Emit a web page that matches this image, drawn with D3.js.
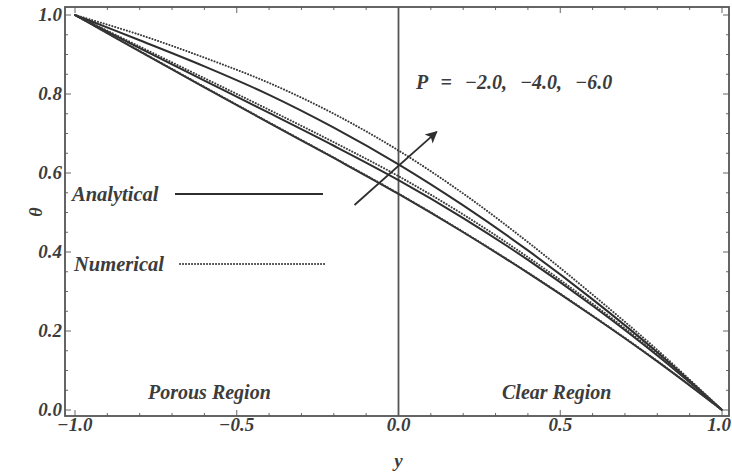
<!DOCTYPE html>
<html>
<head>
<meta charset="utf-8">
<script src="https://cdn.jsdelivr.net/npm/d3@7/dist/d3.min.js"></script>
<style>
  html, body { margin: 0; padding: 0; background: #ffffff; }
  svg text { font-family: "Liberation Serif", "DejaVu Serif", serif; font-weight: bold; font-style: italic; fill: #3c3c3c; }
</style>
</head>
<body>
<svg id="chart" width="732" height="475"></svg>
<script>
// Sample positions across the channel
const yPos = [-1, -0.8, -0.6, -0.4, -0.2, 0, 0.2, 0.4, 0.6, 0.8, 1];

// Temperature profiles θ(y) for P = -2, -4, -6
const analyticalP2 = [1, 0.908, 0.817, 0.727, 0.638, 0.547, 0.450, 0.347, 0.238, 0.123, 0];
const analyticalP4 = [1, 0.916, 0.834, 0.752, 0.669, 0.582, 0.486, 0.380, 0.264, 0.138, 0];
const analyticalP6 = [1, 0.936, 0.870, 0.798, 0.715, 0.622, 0.518, 0.404, 0.280, 0.146, 0];
const numericalP2  = [1, 0.909, 0.818, 0.728, 0.639, 0.548, 0.451, 0.348, 0.239, 0.124, 0];
const numericalP4  = [1, 0.920, 0.840, 0.760, 0.678, 0.592, 0.495, 0.387, 0.269, 0.141, 0];
const numericalP6  = [1, 0.950, 0.892, 0.828, 0.750, 0.657, 0.548, 0.425, 0.292, 0.152, 0];

const xTicks = [-1.0, -0.5, 0.0, 0.5, 1.0];
const yTicks = [0.0, 0.2, 0.4, 0.6, 0.8, 1.0];

const svg = d3.select("#chart");

// Frame with a little padding around the data range
const frame = { left: 65, right: 729, top: 7, bottom: 416 };
const x = d3.scaleLinear().domain([-1, 1]).range([75, 722]);
const y = d3.scaleLinear().domain([0, 1]).range([410, 15]);

const ink = "#2e2e2e";

// Frame ticks (major + minor), pointing inward on all four sides
const xMinor = d3.range(-1, 1.0001, 0.1);
const yMinor = d3.range(0, 1.0001, 0.05);
const tickG = svg.append("g").attr("stroke", "#666").attr("stroke-width", 1);
xMinor.forEach(v => {
  const major = xTicks.some(t => Math.abs(t - v) < 1e-6);
  const len = major ? 6 : 3;
  tickG.append("line").attr("x1", x(v)).attr("x2", x(v)).attr("y1", frame.bottom).attr("y2", frame.bottom - len);
  tickG.append("line").attr("x1", x(v)).attr("x2", x(v)).attr("y1", frame.top).attr("y2", frame.top + len);
});
yMinor.forEach(v => {
  const major = yTicks.some(t => Math.abs(t - v) < 1e-6);
  const len = major ? 6 : 3;
  tickG.append("line").attr("y1", y(v)).attr("y2", y(v)).attr("x1", frame.left).attr("x2", frame.left + len);
  tickG.append("line").attr("y1", y(v)).attr("y2", y(v)).attr("x1", frame.right).attr("x2", frame.right - len);
});

// Frame border
svg.append("rect")
  .attr("x", frame.left).attr("y", frame.top)
  .attr("width", frame.right - frame.left).attr("height", frame.bottom - frame.top)
  .attr("fill", "none").attr("stroke", "#555").attr("stroke-width", 1.8);

// Interface between porous and clear regions
svg.append("line")
  .attr("x1", x(0)).attr("x2", x(0))
  .attr("y1", frame.top).attr("y2", frame.bottom)
  .attr("stroke", "#555").attr("stroke-width", 1.8);

// Tick labels (the last one is kept inside the page edge)
const fmt = d3.format(".1f");
const minus = s => s.replace("-", "\u2212");
svg.append("g").selectAll("text").data(xTicks).join("text")
  .attr("x", (d, i) => i === xTicks.length - 1 ? 731 : x(d)).attr("y", 431)
  .attr("text-anchor", (d, i) => i === xTicks.length - 1 ? "end" : "middle")
  .attr("font-size", 19)
  .text(d => minus(fmt(d)));
svg.append("g").selectAll("text").data(yTicks).join("text")
  .attr("x", 62).attr("y", d => y(d) + 6)
  .attr("text-anchor", "end").attr("font-size", 19)
  .text(d => fmt(d));

// Axis titles
svg.append("text").attr("x", x(0)).attr("y", 467).attr("text-anchor", "middle")
  .attr("font-size", 19).text("y");
svg.append("text").attr("transform", "translate(42,212) rotate(-90)")
  .attr("text-anchor", "middle").attr("font-size", 18).text("θ");

// Profiles
const line = d3.line().x((d, i) => x(yPos[i])).y(d => y(d)).curve(d3.curveCatmullRom.alpha(0.5));
const solid = [analyticalP2, analyticalP4, analyticalP6];
const dotted = [numericalP2, numericalP4, numericalP6];

svg.append("g").selectAll("path").data(solid).join("path")
  .attr("d", line).attr("fill", "none")
  .attr("stroke", ink).attr("stroke-width", 2);
svg.append("g").selectAll("path").data(dotted).join("path")
  .attr("d", line).attr("fill", "none")
  .attr("stroke", "#3a3a3a").attr("stroke-width", 2)
  .attr("stroke-dasharray", "0.1,2.9").attr("stroke-linecap", "round");

// Arrow showing the direction of increasing |P|
svg.append("defs").append("marker")
  .attr("id", "head").attr("viewBox", "0 0 10 10")
  .attr("refX", 9).attr("refY", 5)
  .attr("markerWidth", 16).attr("markerHeight", 12)
  .attr("markerUnits", "userSpaceOnUse")
  .attr("orient", "auto")
  .append("path").attr("d", "M0,0 L10,5 L0,10 L2.5,5 Z").attr("fill", ink);
svg.append("line")
  .attr("x1", x(-0.136)).attr("y1", y(0.519))
  .attr("x2", x(0.118)).attr("y2", y(0.704))
  .attr("stroke", ink).attr("stroke-width", 1.8)
  .attr("marker-end", "url(#head)");

// Annotation and legend
svg.append("text").attr("x", 416).attr("y", 89).attr("font-size", 20)
  .attr("word-spacing", 8)
  .text("P = \u22122.0, \u22124.0, \u22126.0");

svg.append("text").attr("x", 72).attr("y", 201).attr("font-size", 20.5).text("Analytical");
svg.append("line").attr("x1", 175).attr("x2", 323).attr("y1", 194).attr("y2", 194)
  .attr("stroke", ink).attr("stroke-width", 2);
svg.append("text").attr("x", 74).attr("y", 271).attr("font-size", 20.5).text("Numerical");
svg.append("line").attr("x1", 180).attr("x2", 325).attr("y1", 264).attr("y2", 264)
  .attr("stroke", "#3a3a3a").attr("stroke-width", 2)
  .attr("stroke-dasharray", "0.1,2.9").attr("stroke-linecap", "round");

svg.append("text").attr("x", 148).attr("y", 399).attr("font-size", 20).text("Porous Region");
svg.append("text").attr("x", 502).attr("y", 399).attr("font-size", 20).text("Clear Region");
</script>
</body>
</html>
